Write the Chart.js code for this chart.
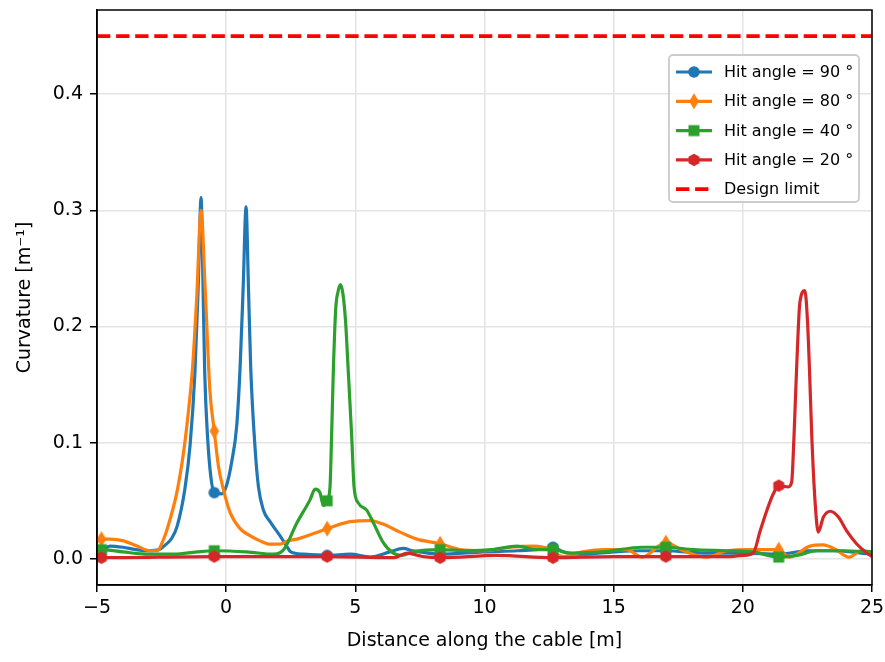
<!DOCTYPE html>
<html>
<head>
<meta charset="utf-8">
<script src="https://cdn.jsdelivr.net/npm/chart.js@4/dist/chart.umd.min.js"></script>
<style>
body { margin: 0; background: #fff; }
canvas { display: block; }
</style>
</head>
<body>
<canvas id="cvs" width="885" height="662"></canvas>
<script>
var xTicks = [-5, 0, 5, 10, 15, 20, 25];
var yTicks = [0, 0.1, 0.2, 0.3, 0.4];
var markerDist = [-4.83, -0.46, 3.91, 8.28, 12.65, 17.02, 21.39];
var limitDist = [-5, 25];
var limitCurv = [0.45, 0.45];

// hit angle 90
var dist90 = [-5, -4.83, -4.5, -4.0, -3.5, -3.0, -2.6, -2.35, -2.1, -1.9, -1.6, -1.4, -1.21, -1.08, -0.97, -0.9, -0.83, -0.72, -0.6, -0.46, -0.18, 0.01, 0.21, 0.41, 0.54, 0.66, 0.77, 0.86, 0.95, 1.12, 1.25, 1.44, 1.7, 2.08, 2.34, 2.5, 3.0, 3.91, 4.8, 5.57, 6.34, 6.85, 7.23, 8.28, 9.94, 11.26, 12.0, 12.65, 13.04, 13.8, 15.0, 16.0, 17.02, 18.5, 20.0, 21.39, 22.5, 23.5, 25];
var curv90 = [0.006, 0.007, 0.011, 0.010, 0.008, 0.007, 0.008, 0.012, 0.018, 0.028, 0.060, 0.097, 0.160, 0.236, 0.311, 0.240, 0.160, 0.105, 0.072, 0.057, 0.056, 0.063, 0.083, 0.115, 0.165, 0.235, 0.303, 0.236, 0.165, 0.095, 0.062, 0.042, 0.032, 0.020, 0.011, 0.006, 0.004, 0.003, 0.004, 0.0015, 0.006, 0.009, 0.007, 0.004, 0.006, 0.007, 0.008, 0.010, 0.006, 0.004, 0.006, 0.007, 0.007, 0.005, 0.005, 0.004, 0.007, 0.007, 0.004];

// hit angle 80
var dist80 = [-5, -4.83, -4.5, -3.97, -3.45, -2.95, -2.68, -2.42, -2.16, -1.91, -1.66, -1.47, -1.3, -1.14, -0.97, -0.82, -0.63, -0.46, -0.3, -0.11, 0.15, 0.54, 0.92, 1.31, 1.7, 2.08, 2.39, 2.74, 3.91, 4.79, 5.57, 6.07, 6.73, 7.38, 8.28, 9.05, 9.94, 10.99, 11.88, 12.54, 12.65, 13.04, 13.8, 14.6, 15.5, 16.1, 17.02, 17.7, 18.6, 19.4, 20.3, 21.39, 21.8, 22.6, 23.1, 23.6, 24.1, 24.6, 25];
var curv80 = [0.015, 0.017, 0.017, 0.0155, 0.011, 0.007, 0.007, 0.017, 0.035, 0.057, 0.090, 0.125, 0.165, 0.225, 0.300, 0.236, 0.145, 0.110, 0.080, 0.060, 0.040, 0.026, 0.020, 0.0155, 0.0127, 0.0127, 0.0155, 0.017, 0.026, 0.032, 0.033, 0.030, 0.023, 0.017, 0.013, 0.008, 0.007, 0.010, 0.011, 0.008, 0.006, 0.002, 0.006, 0.008, 0.008, 0.0015, 0.014, 0.007, 0.0015, 0.007, 0.008, 0.008, 0.0015, 0.011, 0.012, 0.008, 0.0015, 0.007, 0.006];

// hit angle 40
var dist40 = [-5, -4.83, -4.0, -3.0, -2.0, -1.13, -0.46, 0.8, 1.85, 2.23, 2.74, 3.25, 3.44, 3.63, 3.76, 3.91, 4.02, 4.08, 4.15, 4.24, 4.33, 4.43, 4.52, 4.62, 4.73, 4.86, 4.95, 5.12, 5.44, 5.7, 6.08, 6.47, 6.8, 7.23, 8.28, 9.3, 10.33, 11.26, 12.0, 12.65, 13.3, 14.6, 16.1, 17.02, 18.1, 19.4, 20.4, 21.39, 22.1, 22.9, 23.9, 25];
var curv40 = [0.008, 0.008, 0.006, 0.004, 0.004, 0.006, 0.007, 0.006, 0.004, 0.008, 0.031, 0.051, 0.060, 0.057, 0.046, 0.050, 0.062, 0.105, 0.163, 0.215, 0.230, 0.236, 0.228, 0.205, 0.160, 0.105, 0.062, 0.048, 0.042, 0.031, 0.014, 0.005, 0.003, 0.006, 0.008, 0.007, 0.008, 0.011, 0.008, 0.008, 0.005, 0.006, 0.010, 0.010, 0.008, 0.007, 0.006, 0.0015, 0.003, 0.007, 0.007, 0.006];

// hit angle 20
var dist20 = [-5, -4.83, -0.46, 3.91, 6.5, 7.0, 7.6, 8.28, 10.5, 12.65, 15.0, 17.02, 19.5, 20.0, 20.4, 20.67, 20.92, 21.18, 21.39, 21.76, 21.89, 21.98, 22.08, 22.21, 22.4, 22.5, 22.58, 22.67, 22.8, 22.92, 23.12, 23.38, 23.7, 24.02, 24.4, 24.8, 25];
var curv20 = [0.001, 0.001, 0.002, 0.002, 0.001, 0.005, 0.002, 0.001, 0.003, 0.001, 0.002, 0.002, 0.002, 0.003, 0.005, 0.024, 0.041, 0.056, 0.063, 0.062, 0.066, 0.105, 0.163, 0.221, 0.231, 0.206, 0.163, 0.105, 0.048, 0.023, 0.036, 0.041, 0.036, 0.024, 0.013, 0.005, 0.002];

function pts(xs, ys) {
	return xs.map(function (x, i) { return {x: x, y: ys[i]}; });
}

function makeMarker(shape, color) {
	var c = document.createElement("canvas");
	c.width = 18; c.height = 18;
	var g = c.getContext("2d");
	g.fillStyle = color;
	g.beginPath();
	if (shape == "circle") {
		g.arc(9, 9, 5.8, 0, 2 * Math.PI);
	} else if (shape == "square") {
		g.rect(3.5, 3.5, 11, 11);
	} else if (shape == "diamond") {
		g.moveTo(9, 1); g.lineTo(13.8, 9); g.lineTo(9, 17); g.lineTo(4.2, 9); g.closePath();
	} else if (shape == "hexagon") {
		for (let k = 0; k < 6; k++) {
			let a = Math.PI / 2 + k * Math.PI / 3;
			let px = 9 + 6.3 * Math.cos(a), py = 9 - 6.3 * Math.sin(a);
			if (k == 0) g.moveTo(px, py); else g.lineTo(px, py);
		}
		g.closePath();
	}
	g.fill();
	return c;
}

function isMarker(x) {
	for (let m of markerDist) {
		if (Math.abs(m - x) < 1e-9) return true;
	}
	return false;
}

function series(label, xs, ys, color, shape, order) {
	var img = makeMarker(shape, color);
	return {
		label: label,
		data: pts(xs, ys),
		borderColor: color,
		backgroundColor: color,
		borderWidth: 3.2,
		cubicInterpolationMode: "monotone",
		pointStyle: img,
		pointRadius: function (ctx) { return ctx.raw && isMarker(ctx.raw.x) ? 6 : 0; },
		pointHoverRadius: 0,
		markerImg: img,
		order: order
	};
}

var datasets = [
	series("Hit angle = 90 \u00b0", dist90, curv90, "#1f77b4", "circle", 5),
	series("Hit angle = 80 \u00b0", dist80, curv80, "#ff7f0e", "diamond", 4),
	series("Hit angle = 40 \u00b0", dist40, curv40, "#2ca02c", "square", 3),
	series("Hit angle = 20 \u00b0", dist20, curv20, "#d62728", "hexagon", 2),
	{
		label: "Design limit",
		data: pts(limitDist, limitCurv),
		borderColor: "#ff0000",
		borderWidth: 3.8,
		borderDash: [13.3, 5.8],
		pointRadius: 0,
		pointHoverRadius: 0,
		order: 1
	}
];

var frame = {
	id: "frame",
	afterDatasetsDraw: function (chart) {
		var a = chart.chartArea, ctx = chart.ctx;
		ctx.save();
		ctx.strokeStyle = "#000";
		ctx.lineWidth = 1.5;
		ctx.strokeRect(a.left, a.top, a.right - a.left, a.bottom - a.top);
		ctx.restore();
	}
};

var legendBox = {
	id: "legendBox",
	afterDraw: function (chart) {
		var ctx = chart.ctx;
		var bx = 669, by = 55, bw = 190, bh = 147;
		ctx.save();
		ctx.beginPath();
		ctx.roundRect(bx, by, bw, bh, 4);
		ctx.fillStyle = "rgba(255,255,255,0.8)";
		ctx.fill();
		ctx.strokeStyle = "#cccccc";
		ctx.lineWidth = 1.9;
		ctx.stroke();
		ctx.font = "16px 'DejaVu Sans'";
		ctx.textBaseline = "middle";
		ctx.textAlign = "left";
		var rows = chart.data.datasets;
		for (let i = 0; i < rows.length; i++) {
			let d = rows[i];
			let y = 72 + i * 29.3;
			ctx.beginPath();
			ctx.setLineDash(d.borderDash || []);
			ctx.strokeStyle = d.borderColor;
			ctx.lineWidth = d.borderWidth;
			ctx.moveTo(676, y);
			ctx.lineTo(712, y);
			ctx.stroke();
			ctx.setLineDash([]);
			if (d.markerImg) ctx.drawImage(d.markerImg, 694 - 9, y - 9);
			ctx.fillStyle = "#000";
			ctx.fillText(d.label, 724, y + 1);
		}
		ctx.restore();
	}
};

var tickFont = {family: "'DejaVu Sans'", size: 19};

var config = {
	type: "line",
	data: {datasets: datasets},
	options: {
		responsive: false,
		animation: false,
		devicePixelRatio: 1,
		layout: {padding: {top: 10, right: 13, left: 0, bottom: 0}},
		plugins: {
			legend: {display: false},
			tooltip: {enabled: false}
		},
		scales: {
			x: {
				type: "linear",
				min: -5,
				max: 25,
				afterBuildTicks: function (scale) {
					scale.ticks = xTicks.map(function (v) { return {value: v}; });
				},
				afterFit: function (scale) {
					scale.height = 77;
					scale.paddingLeft = 0; scale.paddingRight = 0;
				},
				ticks: {
					font: tickFont,
					color: "#000",
					padding: 5,
					maxRotation: 0,
					autoSkip: false,
					callback: function (v) { return v < 0 ? "\u2212" + Math.abs(v) : String(v); }
				},
				grid: {color: "#e4e4e4", lineWidth: 1.5, tickColor: "#000", tickLength: 7, tickWidth: 1.5},
				border: {display: true, color: "#000", width: 1.5},
				title: {
					display: true,
					text: "Distance along the cable [m]",
					font: tickFont,
					color: "#000",
					padding: {top: 0, bottom: 10}
				}
			},
			y: {
				type: "linear",
				min: -0.0225,
				max: 0.4725,
				afterBuildTicks: function (scale) {
					scale.ticks = yTicks.map(function (v) { return {value: v}; });
				},
				afterFit: function (scale) {
					scale.width = 97;
					scale.paddingTop = 0; scale.paddingBottom = 0;
				},
				ticks: {
					font: tickFont,
					color: "#000",
					padding: 7,
					callback: function (v) { return v.toFixed(1); }
				},
				grid: {color: "#e4e4e4", lineWidth: 1.5, tickColor: "#000", tickLength: 7, tickWidth: 1.5},
				border: {display: true, color: "#000", width: 1.5},
				title: {
					display: true,
					text: "Curvature [m\u207b\u00b9]",
					font: tickFont,
					color: "#000",
					padding: {top: 14, bottom: 0}
				}
			}
		}
	},
	plugins: [frame, legendBox]
};

var chart = new Chart(document.getElementById("cvs"), config);
</script>
</body>
</html>
